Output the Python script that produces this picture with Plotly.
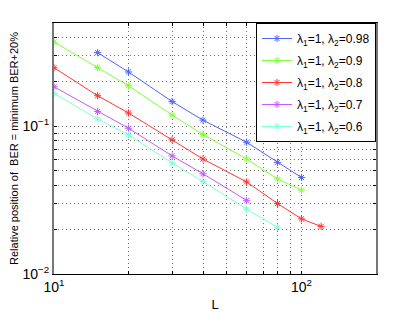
import plotly.graph_objects as go

L_blue = [15, 20, 30, 40, 60, 80, 100]
v_blue = [0.315, 0.233, 0.147, 0.110, 0.078, 0.057, 0.045]
L_green = [10, 15, 20, 30, 40, 60, 80, 100]
v_green = [0.372, 0.250, 0.188, 0.119, 0.088, 0.060, 0.044, 0.037]
L_red = [10, 15, 20, 30, 40, 60, 80, 100, 120]
v_red = [0.249, 0.161, 0.123, 0.081, 0.060, 0.042, 0.030, 0.0236, 0.021]
L_purple = [10, 15, 20, 30, 40, 60]
v_purple = [0.185, 0.126, 0.097, 0.063, 0.0477, 0.0315]
L_cyan = [10, 15, 20, 30, 40, 60, 80]
v_cyan = [0.167, 0.112, 0.0875, 0.0564, 0.0423, 0.0275, 0.0207]

names = ["λ<sub>1</sub>=1, λ<sub>2</sub>=0.98", "λ<sub>1</sub>=1, λ<sub>2</sub>=0.9",
         "λ<sub>1</sub>=1, λ<sub>2</sub>=0.8", "λ<sub>1</sub>=1, λ<sub>2</sub>=0.7",
         "λ<sub>1</sub>=1, λ<sub>2</sub>=0.6"]
colors = ["#4d64ff", "#80ff3a", "#ff3535", "#c35cff", "#7dffd9"]

x_ticks = [10, 20, 30, 40, 50, 60, 70, 80, 90, 100, 200]
x_labels = ["10<sup>1</sup>", "", "", "", "", "", "", "", "", "10<sup>2</sup>", ""]
y_ticks = [0.01, 0.02, 0.03, 0.04, 0.05, 0.06, 0.07, 0.08, 0.09, 0.1, 0.2, 0.3, 0.4, 0.5]
y_labels = ["10<sup>−2</sup>"] + [""] * 8 + ["10<sup>−1</sup>"] + [""] * 4

fig = go.Figure()
for i, (xs, ys, nm, c) in enumerate(zip([L_blue, L_green, L_red, L_purple, L_cyan],
                                        [v_blue, v_green, v_red, v_purple, v_cyan], names, colors)):
    fig.add_trace(go.Scatter(x=xs, y=ys, name=nm, mode="lines+markers", legendgroup=f"g{i}",
                             line=dict(color=c, width=1),
                             marker=dict(symbol="asterisk", size=6, color=c,
                                         line=dict(color=c, width=1))))

font = "Liberation Sans, Arial, sans-serif"
fig.update_layout(
    width=407, height=305,
    margin=dict(l=46, r=39, t=15, b=39),
    paper_bgcolor="white", plot_bgcolor="white",
    font=dict(family=font, size=12, color="black"),
    showlegend=True,
    legend=dict(x=1, y=1, xanchor="right", yanchor="top",
                bordercolor="black", borderwidth=1, bgcolor="white",
                font=dict(size=12), itemwidth=30,
                tracegroupgap=3),
    xaxis=dict(type="log", range=[1, 2.30103], tickvals=x_ticks, ticktext=x_labels,
               showline=True, linecolor="black", linewidth=1, mirror="ticks",
               ticks="inside", ticklen=3, tickcolor="black", automargin=False,
               showgrid=True, gridcolor="#707070", griddash="1px,3px", gridwidth=1,
               zeroline=False, tickfont=dict(size=14),
               title=dict(text="L", font=dict(size=13), standoff=6)),
    yaxis=dict(type="log", range=[-2, -0.30103], tickvals=y_ticks, ticktext=y_labels,
               showline=True, linecolor="#777777", linewidth=2, mirror="ticks",
               ticks="inside", ticklen=3, tickcolor="black", automargin=False,
               showgrid=True, gridcolor="#707070", griddash="1px,3px", gridwidth=1,
               zeroline=False, tickfont=dict(size=14),
               title=dict(text="Relative position of  BER = minimum BER+20%",
                          font=dict(size=11), standoff=4)),
)
fig.write_html("out.html")
